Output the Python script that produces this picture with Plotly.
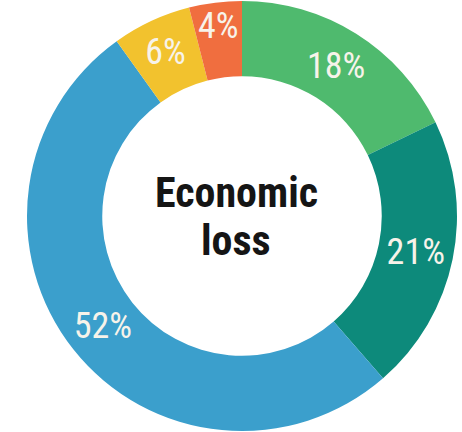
import plotly.graph_objects as go

categories = ["A", "B", "C", "D", "E"]
values = [18, 21, 52, 6, 4]
labels = ["18%", "21%", "52%", "6%", "4%"]
colors = ["#4fba6e", "#0d8a7b", "#3b9fcc", "#f2c22e", "#f06e3f"]
center_lines = ["Economic", "loss"]

W, H = 462, 432
cx, cy, R = 242, 216, 215
FONT = "Roboto Condensed, Liberation Sans Narrow, sans-serif"

fig = go.Figure(go.Pie(
    labels=categories,
    values=values,
    text=labels,
    texttemplate="%{text}",
    textposition="inside",
    insidetextorientation="horizontal",
    hole=0.65,
    sort=False,
    direction="clockwise",
    rotation=0,
    marker=dict(colors=colors, line=dict(width=0)),
    textfont=dict(family=FONT, size=36, color="#f7f3ea", weight=400),
    domain=dict(x=[(cx - R) / W, (cx + R) / W], y=[1 - (cy + R) / H, 1 - (cy - R) / H]),
    showlegend=False,
    hoverinfo="skip",
))

for line, ypx in zip(center_lines, [192, 240]):
    fig.add_annotation(
        text=f"<b>{line}</b>", x=236 / W, y=1 - ypx / H, xref="paper", yref="paper",
        showarrow=False, xanchor="center", yanchor="middle",
        font=dict(family=FONT, size=42, color="#151515"),
    )

fig.update_layout(
    width=W, height=H,
    margin=dict(l=0, r=0, t=0, b=0),
    paper_bgcolor="white", plot_bgcolor="white",
    uniformtext=dict(minsize=36, mode="show"),
)

fig.write_html("out.html")
